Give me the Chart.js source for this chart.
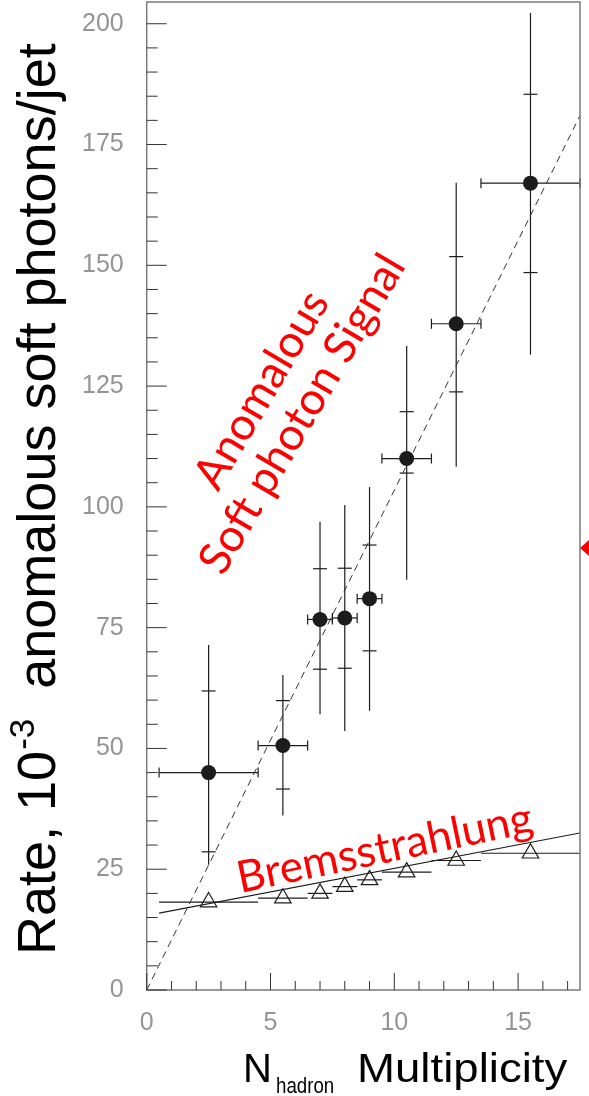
<!DOCTYPE html>
<html>
<head>
<meta charset="utf-8">
<script src="https://cdn.jsdelivr.net/npm/chart.js@4.4.0/dist/chart.umd.min.js"></script>
<style>
  html, body { margin: 0; padding: 0; background: #fff; }
</style>
</head>
<body>
<canvas id="rateChart" width="589" height="1096"></canvas>
<script>
// hadron multiplicity bins (centre and half width)
const multiplicity = [2.5, 5.5, 7, 8, 9, 10.5, 12.5, 15.5];
const binHalfWidth = [2, 1, 0.5, 0.5, 0.5, 1, 1, 2];

// anomalous soft photon rate, 10^-3 per jet, with statistical and total errors
const signalRate = [45, 50.6, 76.7, 77, 81, 110, 137.9, 167];
const signalStatLow = [28.6, 41.6, 66.4, 66.6, 70.2, 107, 123.8, 148.5];
const signalStatHigh = [61.9, 59.9, 87.2, 87.3, 92.1, 119.7, 151.8, 185.4];
const signalTotLow = [25.9, 36.1, 57.1, 53.6, 57.8, 84.9, 108.3, 131.5];
const signalTotHigh = [71.4, 65.2, 96.9, 100.4, 104.1, 133.3, 167.1, 202.2];

// expected inner bremsstrahlung rate
const bremsRate = [18.2, 19.0, 20.0, 21.4, 22.8, 24.4, 26.8, 28.3];

// straight-line fits
const signalFitX = [0, 17.5];
const signalFitY = [0, 181];
const bremsFitX = [0.5, 17.5];
const bremsFitY = [15.9, 32.5];

const xTicks = [0, 5, 10, 15];
const yTicks = [0, 25, 50, 75, 100, 125, 150, 175, 200];

const ink = '#1c1c1c';

function seg(ctx, x1, y1, x2, y2) {
  ctx.beginPath();
  ctx.moveTo(x1, y1);
  ctx.lineTo(x2, y2);
  ctx.stroke();
}

const errorBars = {
  id: 'errorBars',
  beforeDatasetsDraw(chart) {
    const { ctx, scales: { x, y } } = chart;
    ctx.save();
    ctx.strokeStyle = ink;
    ctx.lineWidth = 1.2;
    multiplicity.forEach((m, i) => {
      const px = x.getPixelForValue(m);
      const left = x.getPixelForValue(m - binHalfWidth[i]);
      const right = x.getPixelForValue(m + binHalfWidth[i]);

      const py = y.getPixelForValue(signalRate[i]);
      seg(ctx, left, py, right, py);
      seg(ctx, left, py - 5, left, py + 5);
      seg(ctx, right, py - 5, right, py + 5);
      seg(ctx, px, y.getPixelForValue(signalTotLow[i]), px, y.getPixelForValue(signalTotHigh[i]));
      [signalStatLow[i], signalStatHigh[i]].forEach(v => {
        const t = y.getPixelForValue(v);
        seg(ctx, px - 7, t, px + 7, t);
      });

      const by = y.getPixelForValue(bremsRate[i]);
      seg(ctx, left, by, right, by);
    });
    ctx.restore();
  }
};

const frame = {
  id: 'frame',
  afterDatasetsDraw(chart) {
    const { ctx, chartArea: a, scales: { x, y } } = chart;
    ctx.save();
    ctx.strokeStyle = '#7a7a7a';
    ctx.lineWidth = 1.5;
    ctx.strokeRect(a.left, a.top, a.right - a.left, a.bottom - a.top);
    ctx.strokeStyle = '#333';
    ctx.lineWidth = 1;
    for (let v = 0; v <= y.max; v += 5) {
      const py = y.getPixelForValue(v);
      seg(ctx, a.left, py, a.left + (v % 25 === 0 ? 20 : 11), py);
    }
    for (let v = 0; v <= x.max; v += 1) {
      const px = x.getPixelForValue(v);
      seg(ctx, px, a.bottom, px, a.bottom - (v % 5 === 0 ? 17 : 9));
    }
    ctx.restore();
  }
};

const notes = {
  id: 'notes',
  afterDatasetsDraw(chart) {
    const { ctx, scales: { x, y } } = chart;
    const put = (text, xv, yv, deg) => {
      ctx.save();
      ctx.translate(x.getPixelForValue(xv), y.getPixelForValue(yv));
      ctx.rotate(deg * Math.PI / 180);
      ctx.fillText(text, 0, 0);
      ctx.restore();
    };
    ctx.save();
    ctx.fillStyle = '#ff0000';
    ctx.textAlign = 'center';
    ctx.textBaseline = 'alphabetic';
    ctx.font = '45px Lato';
    put('Anomalous', 5.15, 122.7, -59.5);
    put('Soft photon Signal', 6.79, 117.7, -59.5);
    ctx.font = '44px Lato';
    put('Bremsstrahlung', 9.73, 26.4, -11.7);
    ctx.restore();
  }
};

const titles = {
  id: 'titles',
  afterDraw(chart) {
    const { ctx } = chart;
    ctx.save();
    ctx.fillStyle = '#000';
    ctx.textAlign = 'left';
    ctx.textBaseline = 'alphabetic';

    // vertical axis title, read bottom to top
    ctx.translate(55, 955);
    ctx.rotate(-Math.PI / 2);
    let pos = 0;
    ctx.font = '54px "Liberation Sans"';
    ctx.fillText('Rate, 10', pos, 0);
    pos += ctx.measureText('Rate, 10').width;
    ctx.font = '35px "Liberation Sans"';
    ctx.fillText('-3', pos + 1, -21);
    pos += ctx.measureText('-3').width + 1;
    ctx.font = '54px "Liberation Sans"';
    ctx.fillText('  anomalous soft photons/jet', pos, 0);
    ctx.restore();

    // horizontal axis title
    ctx.save();
    ctx.fillStyle = '#000';
    ctx.font = '40px "Liberation Sans"';
    ctx.fillText('N', 243, 1082);
    ctx.save();
    ctx.translate(276, 1093);
    ctx.scale(0.85, 1);
    ctx.font = '22px "Liberation Sans"';
    ctx.fillText('hadron', 0, 0);
    ctx.restore();
    ctx.save();
    ctx.translate(357, 1082);
    ctx.scale(1.14, 1);
    ctx.font = '40px "Liberation Sans"';
    ctx.fillText('Multiplicity', 0, 0);
    ctx.restore();

    // slide pointer at the right edge
    ctx.fillStyle = '#ff0000';
    ctx.beginPath();
    ctx.moveTo(580, 548);
    ctx.lineTo(590, 539);
    ctx.lineTo(590, 557);
    ctx.closePath();
    ctx.fill();
    ctx.restore();
  }
};

const tickFont = { family: '"Liberation Sans"', size: 25, weight: 'normal' };

// keep the plot box exactly where the axis sizes put it
const fixX = s => { s.height = 106; s.paddingLeft = 0; s.paddingRight = 0; };
const fixY = s => { s.width = 146.7; s.paddingTop = 0; s.paddingBottom = 0; };

new Chart(document.getElementById('rateChart'), {
  type: 'scatter',
  data: {
    datasets: [
      {
        label: 'signal',
        data: multiplicity.map((m, i) => ({ x: m, y: signalRate[i] })),
        pointStyle: 'circle',
        pointRadius: 7.5,
        backgroundColor: ink,
        borderColor: ink,
        borderWidth: 0
      },
      {
        label: 'bremsstrahlung',
        data: multiplicity.map((m, i) => ({ x: m, y: bremsRate[i] })),
        pointStyle: 'triangle',
        pointRadius: 9.5,
        backgroundColor: 'rgba(0,0,0,0)',
        borderColor: ink,
        borderWidth: 1.2
      },
      {
        type: 'line',
        label: 'signal fit',
        data: signalFitX.map((v, i) => ({ x: v, y: signalFitY[i] })),
        borderColor: '#333',
        borderWidth: 1,
        borderDash: [7, 5],
        pointRadius: 0,
        fill: false
      },
      {
        type: 'line',
        label: 'bremsstrahlung fit',
        data: bremsFitX.map((v, i) => ({ x: v, y: bremsFitY[i] })),
        borderColor: ink,
        borderWidth: 1.2,
        pointRadius: 0,
        fill: false
      }
    ]
  },
  options: {
    responsive: false,
    animation: false,
    layout: { autoPadding: false, padding: { left: 0, right: 9, top: 2, bottom: 0 } },
    plugins: { legend: { display: false }, tooltip: { enabled: false } },
    scales: {
      x: {
        type: 'linear',
        min: 0,
        max: 17.5,
        afterBuildTicks: s => { s.ticks = xTicks.map(v => ({ value: v })); },
        afterFit: fixX,
        grid: { display: false },
        border: { display: false },
        ticks: { padding: 10, color: '#949494', font: tickFont, autoSkip: false, maxRotation: 0 }
      },
      y: {
        type: 'linear',
        min: 0,
        max: 204.5,
        afterBuildTicks: s => { s.ticks = yTicks.map(v => ({ value: v })); },
        afterFit: fixY,
        grid: { display: false },
        border: { display: false },
        ticks: { padding: 15, color: '#949494', font: tickFont, autoSkip: false }
      }
    }
  },
  plugins: [errorBars, frame, notes, titles]
});
</script>
</body>
</html>
